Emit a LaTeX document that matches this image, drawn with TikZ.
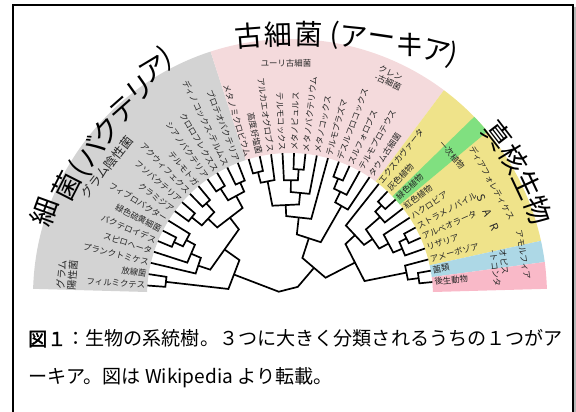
\documentclass[tikz,border=0pt]{standalone}
\usepackage{fontspec}
\setmainfont{Noto Sans CJK JP}
\newfontfamily\capb[FakeBold=2]{Noto Sans CJK JP}
\usetikzlibrary{calc}
\definecolor{bgray}{HTML}{D3D3D3}
\definecolor{apink}{HTML}{F4DADC}
\definecolor{eyel}{HTML}{EFE38A}
\definecolor{egrn}{HTML}{80E080}
\definecolor{eblu}{HTML}{ADD8E6}
\definecolor{epnk}{HTML}{F9B9C8}
\newcommand\mkband[3]{\fill[#3] (#1:143pt) arc[start angle=#1, end angle=#2, radius=143pt] -- (#2:257pt) arc[start angle=#2, end angle=#1, radius=257pt] -- cycle;}
\newcommand\mkclade[4]{%
  \pgfmathsetmacro\clA{\csname ang#2\endcsname}%
  \pgfmathsetmacro\clB{\csname ang#3\endcsname}%
  \pgfmathsetmacro\clM{(\clA+\clB)/2}%
  \expandafter\xdef\csname ang#1\endcsname{\clM}%
  \draw[branch] (#2) -- (\clA:#4pt) -- (\clB:#4pt) -- (#3);%
  \coordinate (#1) at ($(\clA:#4pt)!0.5!(\clB:#4pt)$);%
}
\begin{document}
\begin{tikzpicture}[
  branch/.style={line width=1.7pt, line join=miter},
  leafL/.style={font=\fontsize{8.4}{9}\selectfont, inner sep=0pt, anchor=east, text=black!85},
  leafR/.style={font=\fontsize{8.4}{9}\selectfont, inner sep=0pt, anchor=west, text=black!85},
  grp/.style={font=\fontsize{8.4}{9.5}\selectfont, inner sep=0pt, text=black!85, align=left},
  ttl/.style={font=\fontsize{28}{30}\selectfont, inner sep=0pt},
  captext/.style={font=\fontsize{19.1}{22}\selectfont, inner sep=0pt, anchor=base west}
]
\useasboundingbox (-290pt,-116pt) rectangle (286pt,296pt);
% frame
\draw[gray!55, line width=1.5pt] (285pt,289pt) -- (285pt,-130pt);
\draw[line width=1.3pt] (-277pt,-130pt) -- (-277pt,291pt) -- (283pt,291pt) -- (283pt,-130pt);
% bands
\mkband{178.4}{108}{bgray}
\mkband{108}{53.2}{apink}
\mkband{53.2}{12.4}{eyel}
\mkband{44.2}{39.8}{egrn}
\mkband{12.4}{7.6}{eblu}
\mkband{7.6}{1.6}{epnk}
% leaves, left-reading
\foreach \lab [count=\i from 0] in {フィルミクテス,放線菌,プランクトミケス,スピロヘータ,バクテロイデス,緑色硫黄細菌,フィブロバクター,クラミジア,フソバクテリア,アクウィフェクス,テルモトガ,シアノバクテリア,クロロフレクスス,ディノコックス-テルムス,プロテオバクテリア,メタノミクロビウム,高度好塩菌,アルカエオグロブス,テルモコックス} {
  \pgfmathsetmacro\ang{175.8-4.6*\i}
  \expandafter\xdef\csname angL\i\endcsname{\ang}
  \coordinate (L\i) at (\ang:143pt);
  \node[leafL, rotate=\ang-180] (t\i) at (\ang:145pt) {\lab};
}
\foreach \lab [count=\i from 19] in {メタノピュルス,メタノバクテリウム,メタノコックス,テルモプラズマ,デスルフロコックス,スルフォロブス,テルモプロテウス,タウム古細菌,エクスカヴァータ,灰色植物,緑色植物,紅色植物,ハクロビア,ストラメノパイル,アルベオラータ,リザリア,アメーボゾア,菌類,後生動物} {
  \pgfmathsetmacro\ang{175.8-4.6*\i}
  \expandafter\xdef\csname angL\i\endcsname{\ang}
  \coordinate (L\i) at (\ang:143pt);
  \node[leafR, rotate=\ang] (t\i) at (\ang:145pt) {\lab};
}
% bacteria
\mkclade{b01}{L0}{L1}{125}
\mkclade{b45}{L4}{L5}{128}
\mkclade{b46}{b45}{L6}{118}
\mkclade{b36}{L3}{b46}{108}
\mkclade{b26}{L2}{b36}{97}
\mkclade{b78}{L7}{L8}{126}
\mkclade{b910}{L9}{L10}{125}
\mkclade{b710}{b78}{b910}{113}
\mkclade{b1112}{L11}{L12}{128}
\mkclade{b1314}{L13}{L14}{124}
\mkclade{b1114}{b1112}{b1314}{114}
\mkclade{b714}{b710}{b1114}{100}
\mkclade{b214}{b26}{b714}{84}
\mkclade{bac}{b01}{b214}{62}
% archaea
\mkclade{a1516}{L15}{L16}{128}
\mkclade{a1517}{a1516}{L17}{117}
\mkclade{a1920}{L19}{L20}{127}
\mkclade{a1820}{L18}{a1920}{116}
\mkclade{a1821}{a1820}{L21}{104}
\mkclade{a1521}{a1517}{a1821}{92}
\mkclade{a1522}{a1521}{L22}{80}
\mkclade{a2324}{L23}{L24}{127}
\mkclade{a2325}{a2324}{L25}{116}
\mkclade{a2326}{a2325}{L26}{104}
\mkclade{arc}{a1522}{a2326}{62}
% eukaryotes
\mkclade{e2829}{L28}{L29}{129}
\mkclade{e2830}{e2829}{L30}{120}
\mkclade{e3233}{L32}{L33}{130}
\mkclade{e3234}{e3233}{L34}{122}
\mkclade{e3134}{L31}{e3234}{112}
\mkclade{e2834}{e2830}{e3134}{101}
\mkclade{e2734}{L27}{e2834}{90}
\mkclade{e3637}{L36}{L37}{130}
\mkclade{e3537}{L35}{e3637}{119}
\mkclade{euk}{e2734}{e3537}{76}
\mkclade{ae}{arc}{euk}{40}
\mkclade{root}{bac}{ae}{12}
% group labels
\node[grp, font=\fontsize{10}{11}\selectfont, rotate=84.6] (gpos) at (-223pt,21pt) {グラム\\陽性菌};
\node[grp, font=\fontsize{12.5}{13}\selectfont, rotate=52] (gneg) at (-183pt,129pt) {グラム陰性菌};
\node[grp] (eury) at (-4pt,233pt) {ユーリ古細菌};
\node[grp, rotate=-24.6] (cren) at (100pt,218pt) {クレン\\-古細菌};
\node[grp, rotate=-49] (prim) at (162pt,141pt) {一次植物};
\node[grp, rotate=-60.8] (diaph) at (202pt,113pt) {ディアフォレティケス};
\node[grp, font=\fontsize{11}{12}\selectfont, rotate=-67] (sar) at (198pt,83pt) {S\hspace{9pt}A\hspace{9pt}R};
\node[grp, rotate=-80] (amor) at (233pt,41pt) {アモルフィア};
\node[grp, rotate=-83] (opis) at (210pt,28pt) {オピス\\-トコンタ};
% titles
\foreach \ch/\a [count=\k] in {古/94.35,細/91.48,菌/88.57,{(}/86.08,ア/84.31,ー/81.61,キ/78.85,ア/76.31,{)}/74.73}
  \node[ttl, rotate=\a-90] (tA\k) at ($(4pt,-338pt)+(\a:600pt)$) {\ch};
\foreach \ch/\x/\y/\r [count=\k] in {細/-246/84/70,菌/-224/110/63,{(}/-210/126/58,バ/-199/145/53.5,ク/-184/165/47.5,テ/-166/186/41.5,リ/-150/207/35.5,ア/-136/226/31,{)}/-124/238/27}
  \node[ttl, rotate=\r] (tB\k) at (\x pt,\y pt) {\ch};
\foreach \ch/\a [count=\k] in {真/37.8,核/31.5,生/25.2,物/19.0}
  \node[ttl, rotate=\a-90] (tE\k) at (\a:262pt) {\ch};
% caption
\node[captext] (cap1) at (-262pt,-50pt) {{\capb 図１}：生物の系統樹。３つに大きく分類されるうちの１つがア};
\node[captext] (cap2) at (-262pt,-88pt) {ーキア。図は Wikipedia より転載。};
\end{tikzpicture}
\end{document}
